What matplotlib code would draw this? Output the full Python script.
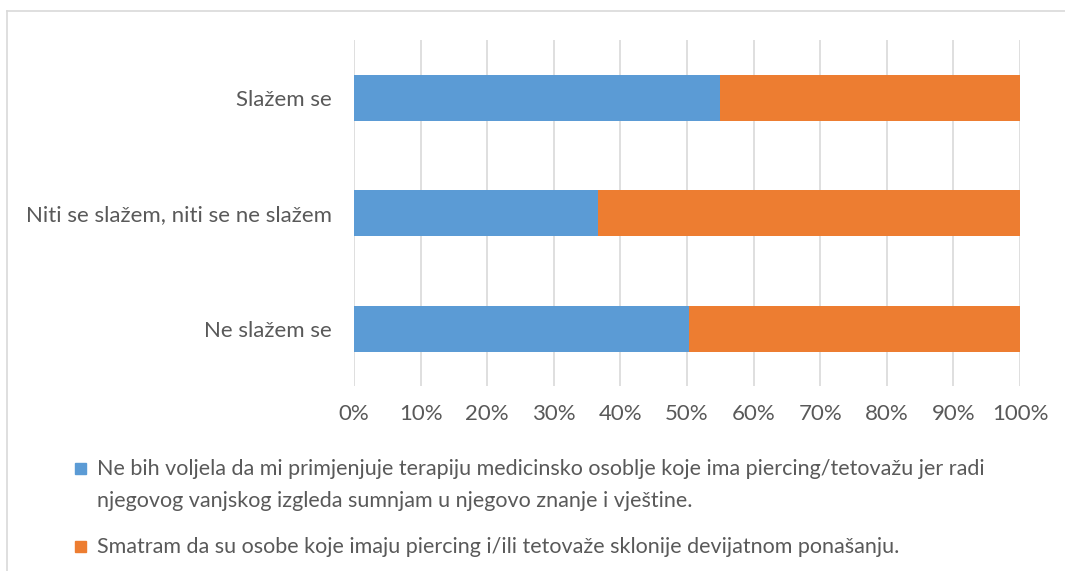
import numpy as np
import matplotlib.pyplot as plt
from matplotlib.lines import Line2D
from matplotlib.patches import Rectangle

plt.rcParams['font.family'] = ['Lato', 'DejaVu Sans']

kategorije = ['Ne slažem se', 'Niti se slažem, niti se ne slažem', 'Slažem se']
nebih = [50.3, 36.6, 55.0]
smatram = [49.7, 63.4, 45.0]
oznake = ['0%', '10%', '20%', '30%', '40%', '50%', '60%', '70%', '80%', '90%', '100%']
legenda = ['Ne bih voljela da mi primjenjuje terapiju medicinsko osoblje koje ima piercing/tetovažu jer radi\n'
           'njegovog vanjskog izgleda sumnjam u njegovo znanje i vještine.',
           'Smatram da su osobe koje imaju piercing i/ili tetovaže sklonije devijatnom ponašanju.']

plava = '#5B9BD5'
narancasta = '#ED7D31'
siva = '#595959'

W, H = 1065, 571
fig = plt.figure(figsize=(W / 100, H / 100), dpi=100)
ax = fig.add_axes([354 / W, 1 - 386.4 / H, 666 / W, 346 / H])

y = np.arange(len(kategorije))
ax.barh(y, nebih, height=0.4, color=plava, zorder=3)
ax.barh(y, smatram, left=nebih, height=0.4, color=narancasta, zorder=3)

ax.set_xlim(0, 100)
ax.set_ylim(-0.5, 2.5)
ax.set_xticks(np.arange(0, 101, 10))
ax.set_xticklabels(oznake)
ax.set_yticks(y)
ax.set_yticklabels(kategorije)
ax.tick_params(length=0, labelsize=16, colors=siva, pad=16)
ax.tick_params(axis='x', pad=13)
ax.grid(axis='x', color='#D9D9D9', linewidth=1.2, zorder=0)
for s in ax.spines.values():
    s.set_visible(False)

# okvir grafikona
fig.add_artist(Line2D([7 / W, 7 / W], [0, 1 - 11 / H], color='#D9D9D9', lw=1.2))
fig.add_artist(Line2D([7 / W, 1], [1 - 11 / H, 1 - 11 / H], color='#D9D9D9', lw=1.2))

# legenda
for boja, tekst, yp in zip([plava, narancasta], legenda, [468, 546]):
    fig.add_artist(Rectangle((75 / W, 1 - (yp + 5.5) / H), 11 / W, 11 / H, color=boja))
    for i, red in enumerate(tekst.split('\n')):
        fig.text(97 / W, 1 - (yp + 7 + 32 * i) / H, red, fontsize=15.5, color=siva,
                 va='baseline', ha='left')

fig.savefig('out.png', dpi=100)
